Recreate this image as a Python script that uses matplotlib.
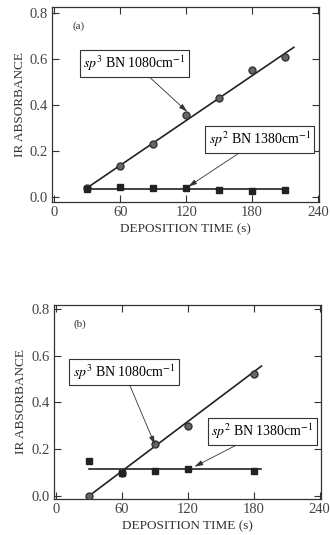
import matplotlib
matplotlib.use("Agg")
import matplotlib.pyplot as plt
import numpy as np

plt.rcParams["font.family"] = ["Liberation Serif", "DejaVu Serif"]
plt.rcParams["mathtext.fontset"] = "stix"

# (a) measured absorbance vs deposition time
t_a = [30, 60, 90, 120, 150, 180, 210]
sp3_a = [0.04, 0.135, 0.23, 0.355, 0.43, 0.55, 0.61]
sp2_a = [0.035, 0.045, 0.04, 0.038, 0.03, 0.027, 0.03]

# (b)
t_b = [30, 60, 90, 120, 180]
sp3_b = [0.0, 0.10, 0.22, 0.30, 0.52]
sp2_b = [0.15, 0.10, 0.105, 0.115, 0.105]

# fitted lines (end points)
fit3_a = ([30, 218], [0.04, 0.65])
fit2_a = ([30, 212], [0.035, 0.035])
fit3_b = ([30, 187], [0.0, 0.555])
fit2_b = ([30, 187], [0.115, 0.115])

LBL3 = r"$sp^3$ BN 1080cm$^{-1}$"
LBL2 = r"$sp^2$ BN 1380cm$^{-1}$"

fig = plt.figure(figsize=(3.3, 5.35), dpi=100, facecolor="white")
ax_a = fig.add_axes([0.158, 0.6224, 0.809, 0.3645])
ax_b = fig.add_axes([0.163, 0.0673, 0.809, 0.3626])


def panel(ax, t, sp3, sp2, fit3, fit2, tag, ann3, ann2, ylim):
    ax.plot(*fit3, color="#222222", lw=1.2, zorder=2)
    ax.plot(*fit2, color="#222222", lw=1.2, zorder=2)
    ax.plot(t, sp3, "o", ms=5, mfc="#666666", mec="#333333", mew=1.0, zorder=3)
    ax.plot(t, sp2, "s", ms=5, mfc="#222222", mec="#222222", zorder=3)
    box = dict(boxstyle="square,pad=0.25", fc="white", ec="#333333", lw=0.8)
    arr = dict(arrowstyle="-|>,head_length=0.5,head_width=0.15", color="#333333",
               lw=0.6, shrinkA=0, shrinkB=0)
    for lbl, (xy, xytext) in ((LBL3, ann3), (LBL2, ann2)):
        ax.annotate(lbl, xy=xy, xytext=xytext, fontsize=10, ha="center", va="center",
                    bbox=box, arrowprops=arr, zorder=4)
    ax.text(0.075, 0.89, tag, transform=ax.transAxes, fontsize=8, color="#333333")
    ax.set_xlim(-2, 241)
    ax.set_ylim(*ylim)
    ax.set_xticks([0, 60, 120, 180, 240])
    ax.set_yticks([0.0, 0.2, 0.4, 0.6, 0.8])
    ax.set_yticklabels(["0.0", "0.2", "0.4", "0.6", "0.8"])
    ax.tick_params(direction="in", length=5, width=0.8, top=True, right=True,
                   labelsize=10.5, pad=3, colors="#333333", labelcolor="#444444")
    for s in ax.spines.values():
        s.set_linewidth(0.9)
        s.set_color("#333333")
    ax.set_xlabel("DEPOSITION TIME (s)", fontsize=9.5, color="#333333", labelpad=3)
    ax.set_ylabel("IR ABSORBANCE", fontsize=9.5, color="#333333", labelpad=3)


panel(ax_a, t_a, sp3_a, sp2_a, fit3_a, fit2_a, "(a)",
      ((121, 0.37), (73, 0.58)), ((122, 0.045), (187, 0.25)), (-0.022, 0.825))
panel(ax_b, t_b, sp3_b, sp2_b, fit3_b, fit2_b, "(b)",
      ((90, 0.22), (62, 0.53)), ((126, 0.125), (188, 0.275)), (-0.013, 0.816))

fig.savefig("out.png", dpi=100, facecolor="white")
